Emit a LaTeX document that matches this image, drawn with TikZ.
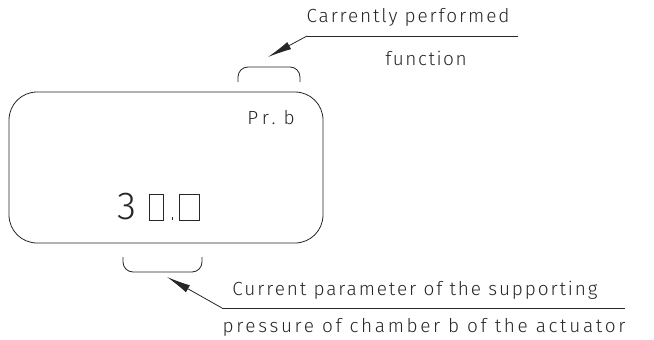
\documentclass[tikz,border=0pt]{standalone}
\usepackage{fontspec}
\setmainfont{Fira Sans}[UprightFont=* Light, LetterSpace=14]
\usetikzlibrary{arrows.meta}
\tikzset{
  ln/.style={line width=0.8pt, draw=black!85},
  lbl/.style={inner sep=0pt, font=\fontsize{19}{22}\selectfont, text=black!85},
  lead/.style={ln, -{Latex[length=24pt,width=8pt]}},
}
\begin{document}
\begin{tikzpicture}[x=1pt,y=-1pt]
\useasboundingbox (0,0) rectangle (654,340);
% display
\node[ln, rounded corners=28pt, minimum width=314pt, minimum height=151pt, inner sep=0pt] (disp) at (166,167.5) {};
\node[lbl] (fn) at (271,118) {\addfontfeatures{LetterSpace=22}Pr.\hspace{8pt}b};
\node[inner sep=0pt, font=\fontsize{39}{39}\selectfont, text=black!85] (d3) at (126.5,207) {3};
\node[ln, minimum width=14pt, minimum height=26pt, inner sep=0pt] (z1) at (156,207) {};
\draw[ln] (172,217) -- (172,220);
\node[ln, minimum width=20pt, minimum height=26pt, inner sep=0pt] (z2) at (189,207) {};
% brackets
\draw[ln, rounded corners=10pt] (238,82) -- (238,67) -- (300,67) -- (300,82);
\draw[ln, rounded corners=10pt] (123,257) -- (123,272) -- (202,272) -- (202,257);
\coordinate (tb) at (268,57);
\coordinate (bb) at (167,277);
% top leader
\coordinate (k1) at (307,36);
\coordinate (e1) at (518,36);
\node[lbl] (t1) at (408,17) {\addfontfeatures{LetterSpace=10}Carrently performed};
\node[lbl] (t2) at (426,58) {\addfontfeatures{LetterSpace=8}function};
\draw[ln] (e1) -- (k1);
\draw[lead] (k1) -- (tb);
% bottom leader
\coordinate (k2) at (222,308);
\coordinate (e2) at (625,308);
\node[lbl] (b1) at (415,290) {\addfontfeatures{LetterSpace=10}Current parameter of the supporting};
\node[lbl] (b2) at (424,327) {pressure of chamber b of the actuator};
\draw[ln] (e2) -- (k2);
\draw[lead] (k2) -- (bb);
\end{tikzpicture}
\end{document}
